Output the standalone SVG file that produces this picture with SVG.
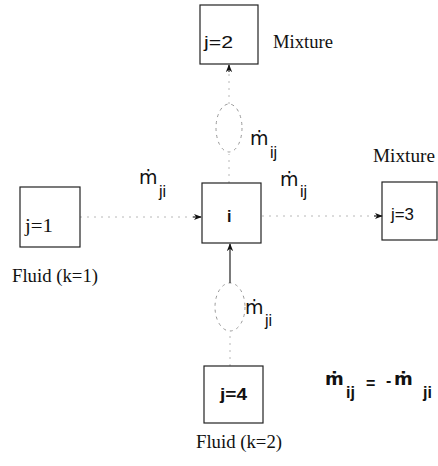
<svg xmlns="http://www.w3.org/2000/svg" width="438" height="466" viewBox="0 0 438 466">
<style>
.box{fill:none;stroke:#222;stroke-width:1.2}
.faint{fill:none;stroke:#b8b8b8;stroke-width:1;stroke-dasharray:2 5}
.ell{fill:none;stroke:#999;stroke-width:1;stroke-dasharray:3 4}
.solid{fill:none;stroke:#222;stroke-width:1.2}
.serif{font-family:"Liberation Serif","Times New Roman",serif;font-size:18px;fill:#111}
.sans{font-family:"Liberation Sans","DejaVu Sans",Arial,sans-serif;font-size:17px;fill:#111}
.m{font-family:"DejaVu Sans","Liberation Sans",Arial,sans-serif;font-size:19px;fill:#111}
.sub{font-family:"Liberation Sans","DejaVu Sans",Arial,sans-serif;font-size:16px;fill:#111}
.bold{font-family:"Liberation Sans","DejaVu Sans",Arial,sans-serif;font-size:16px;font-weight:bold;fill:#111}
.bm{font-family:"DejaVu Sans","Liberation Sans",Arial,sans-serif;font-size:18px;font-weight:bold;fill:#111}
</style>
<defs>
<marker id="ah" viewBox="0 0 10 10" refX="9" refY="5" markerWidth="8" markerHeight="8" markerUnits="userSpaceOnUse" orient="auto">
<path d="M0,1 L10,5 L0,9 L3,5 z" fill="#111"/>
</marker>
</defs>
<g id="connectors">
<line class="faint" x1="229" y1="183" x2="229" y2="154"/>
<ellipse class="ell" cx="229" cy="128" rx="13" ry="24"/>
<line class="faint" x1="229" y1="104" x2="229" y2="72"/>
<line class="solid" x1="229" y1="72" x2="229" y2="65" marker-end="url(#ah)"/>
<line class="faint" x1="80" y1="217" x2="193" y2="217"/>
<line class="solid" x1="193" y1="217" x2="201" y2="217" marker-end="url(#ah)"/>
<line class="faint" x1="262" y1="216" x2="374" y2="216"/>
<line class="solid" x1="374" y1="216" x2="382" y2="216" marker-end="url(#ah)"/>
<line class="faint" x1="230" y1="366" x2="230" y2="331"/>
<ellipse class="ell" cx="230" cy="307" rx="15" ry="24"/>
<line class="solid" x1="230" y1="283" x2="230" y2="244" marker-end="url(#ah)"/>
</g>
<g id="node-j2">
<rect class="box" x="200" y="5" width="58" height="59"/>
<text class="sans" x="204" y="48" textLength="29" lengthAdjust="spacingAndGlyphs">j=2</text>
<text class="serif" x="273" y="48" textLength="60" lengthAdjust="spacingAndGlyphs">Mixture</text>
</g>
<g id="node-j1">
<rect class="box" x="20" y="187" width="60" height="60"/>
<text class="serif" x="25" y="232" textLength="28" lengthAdjust="spacingAndGlyphs">j=1</text>
<text class="serif" x="12" y="282" textLength="86" lengthAdjust="spacingAndGlyphs">Fluid (k=1)</text>
</g>
<g id="node-i">
<rect class="box" x="202" y="183" width="59" height="60"/>
<text class="bold" x="227" y="222">i</text>
</g>
<g id="node-j3">
<rect class="box" x="382" y="182" width="55" height="58"/>
<text class="sans" x="391" y="220" textLength="23" lengthAdjust="spacingAndGlyphs">j=3</text>
<text class="serif" x="373" y="162" textLength="62" lengthAdjust="spacingAndGlyphs">Mixture</text>
</g>
<g id="node-j4">
<rect class="box" x="204" y="366" width="59" height="57"/>
<text class="bold" x="220" y="400" textLength="27" lengthAdjust="spacingAndGlyphs">j=4</text>
<text class="serif" x="196" y="448" textLength="86" lengthAdjust="spacingAndGlyphs">Fluid (k=2)</text>
</g>
<g id="labels">
<text class="m" x="250" y="145">ṁ</text><text class="sub" x="270" y="158">ij</text>
<text class="m" x="280" y="186">ṁ</text><text class="sub" x="300" y="197">ij</text>
<text class="m" x="139" y="184">ṁ</text><text class="sub" x="159" y="197">ji</text>
<text class="m" x="245" y="314">ṁ</text><text class="sub" x="265" y="326">ji</text>
<text class="bm" x="325" y="385">ṁ</text><text class="bold" x="346" y="398">ij</text>
<text class="bold" x="366" y="389" font-size="18">=</text>
<text class="bold" x="386" y="386">-</text>
<text class="bm" x="394" y="385">ṁ</text><text class="bold" x="423" y="398">ji</text>
</g>
</svg>
